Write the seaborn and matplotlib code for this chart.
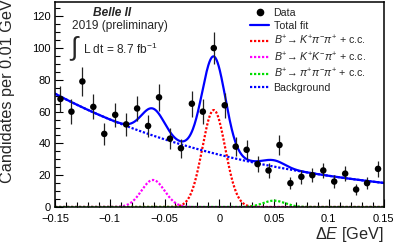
import numpy as np
import pandas as pd
import matplotlib
matplotlib.use("Agg")
import matplotlib.pyplot as plt
import seaborn as sns
from matplotlib.lines import Line2D
from matplotlib.ticker import MultipleLocator

# ---- data ----
delta_e = [-0.145, -0.135, -0.125, -0.115, -0.105, -0.095, -0.085, -0.075, -0.065, -0.055,
           -0.045, -0.035, -0.025, -0.015, -0.005, 0.005, 0.015, 0.025, 0.035, 0.045,
           0.055, 0.065, 0.075, 0.085, 0.095, 0.105, 0.115, 0.125, 0.135, 0.145]
counts = [68, 60, 79, 63, 46, 58, 52, 62, 51, 69,
          43, 37, 65, 60, 100, 64, 38, 36, 27, 23,
          39, 15, 19, 20, 23, 16, 21, 11, 15, 24]

# fit components (peak position, width, height)
kpipi_peak = [-0.005, 0.0105, 61.0]
kkpi_peak = [-0.0605, 0.0105, 17.0]
pipipi_peak = [0.050, 0.010, 4.0]
# background: value at dE=0 and exponential slope
bkg_par = [32.9, -5.16]

x_tick_vals = [-0.15, -0.1, -0.05, 0, 0.05, 0.1, 0.15]
x_tick_labels = ["\u22120.15", "\u22120.1", "\u22120.05", "0", "0.05", "0.1", "0.15"]

legend_labels = ["Data", "Total fit",
                 r"$B^{+}\!\rightarrow K^{+}\pi^{-}\pi^{+}$ + c.c.",
                 r"$B^{+}\!\rightarrow K^{+}K^{-}\pi^{+}$ + c.c.",
                 r"$B^{+}\!\rightarrow \pi^{+}\pi^{-}\pi^{+}$ + c.c.",
                 "Background"]

# ---- style ----
sns.set_style("ticks")
plt.rcParams["font.family"] = ["Liberation Sans", "DejaVu Sans"]
plt.rcParams["mathtext.fontset"] = "custom"
plt.rcParams["mathtext.rm"] = "Liberation Sans"
plt.rcParams["mathtext.it"] = "Liberation Sans:italic"
plt.rcParams["mathtext.bf"] = "Liberation Sans:bold"

fig = plt.figure(figsize=(3.95, 2.45), dpi=100)
ax = fig.add_axes([55 / 395, 1 - 207 / 245, (383.5 - 55) / 395, (207 - 2) / 245])

grid = np.linspace(-0.15, 0.15, 601)
def gauss(p):
    return p[2] * np.exp(-0.5 * ((grid - p[0]) / p[1]) ** 2)
bkg = bkg_par[0] * np.exp(bkg_par[1] * grid)
c1 = gauss(kpipi_peak)
c2 = gauss(kkpi_peak)
c3 = gauss(pipipi_peak)
total = bkg + c1 + c2 + c3
curves = pd.DataFrame({"x": grid, "bkg": bkg, "c1": c1, "c2": c2, "c3": c3, "total": total})

dot = (0, (1.0, 0.8))
lw_d = 1.6
sns.lineplot(data=curves, x="x", y="c1", ax=ax, color="#ff0000", lw=lw_d, linestyle=dot)
sns.lineplot(data=curves, x="x", y="c2", ax=ax, color="#ff00ff", lw=lw_d, linestyle=dot)
sns.lineplot(data=curves, x="x", y="c3", ax=ax, color="#00dd00", lw=lw_d, linestyle=dot)
sns.lineplot(data=curves, x="x", y="bkg", ax=ax, color="#0000ff", lw=lw_d, linestyle=dot)
sns.lineplot(data=curves, x="x", y="total", ax=ax, color="#0000ff", lw=1.6)

pts = pd.DataFrame({"x": delta_e, "y": counts})
err = np.sqrt(pts["y"].values)
ax.errorbar(pts["x"], pts["y"], yerr=err, fmt="none", ecolor="#222222", elinewidth=0.9, capsize=0, zorder=4)
sns.scatterplot(data=pts, x="x", y="y", ax=ax, color="black", s=22, edgecolor="none", zorder=5)

ax.set_xlim(-0.15, 0.15)
ax.set_ylim(0, 129)
ax.set_xlabel("")
ax.set_ylabel("")
ax.xaxis.set_minor_locator(MultipleLocator(0.01))
ax.yaxis.set_major_locator(MultipleLocator(20))
ax.yaxis.set_minor_locator(MultipleLocator(5))
ax.set_xticks(x_tick_vals)
ax.set_xticklabels(x_tick_labels)
ax.tick_params(which="both", direction="in", labelsize=8, width=0.8, colors="black")
ax.tick_params(axis="x", pad=5)
ax.tick_params(axis="y", pad=3)
ax.tick_params(which="major", length=6)
ax.tick_params(which="minor", length=3.5)
for s in ax.spines.values():
    s.set_linewidth(1.1)
    s.set_color("black")

# axis titles
fig.text(8 / 395, 1 - 183 / 245, "Candidates per 0.01 GeV", rotation=90, ha="center", va="bottom",
         fontsize=11.7)
fig.text(383.5 / 395, 1 - 239 / 245, r"$\Delta E$ [GeV]", ha="right", va="baseline", fontsize=11.7)

# annotations
fig.text(112.5 / 395, 1 - 12.5 / 245, "Belle II", ha="center", va="center", fontsize=8.6,
         fontweight="bold", fontstyle="italic")
fig.text(120 / 395, 1 - 26 / 245, "2019 (preliminary)", ha="center", va="center", fontsize=8.6)
fig.text(74 / 395, 1 - 47.5 / 245, "\u222b", ha="center", va="center", fontsize=19)
fig.text(82.7 / 395, 1 - 49 / 245, r"L dt = 8.7 fb$^{\mathregular{-1}}$", ha="left", va="center",
         fontsize=8.6)

# legend
handles = [
    Line2D([], [], color="black", marker="o", markersize=4.5, linestyle="none"),
    Line2D([], [], color="#0000ff", lw=1.6),
    Line2D([], [], color="#ff0000", lw=lw_d, linestyle=dot),
    Line2D([], [], color="#ff00ff", lw=lw_d, linestyle=dot),
    Line2D([], [], color="#00dd00", lw=lw_d, linestyle=dot),
    Line2D([], [], color="#0000ff", lw=lw_d, linestyle=dot),
]
leg = ax.legend(handles, legend_labels, loc="upper left", bbox_to_anchor=(250 / 395, 1 - 8 / 245),
                bbox_transform=fig.transFigure, frameon=False, fontsize=7.7, handlelength=1.8,
                handletextpad=0.4, labelspacing=0.28, borderpad=0, borderaxespad=0)

fig.savefig("out.png", dpi=100)
